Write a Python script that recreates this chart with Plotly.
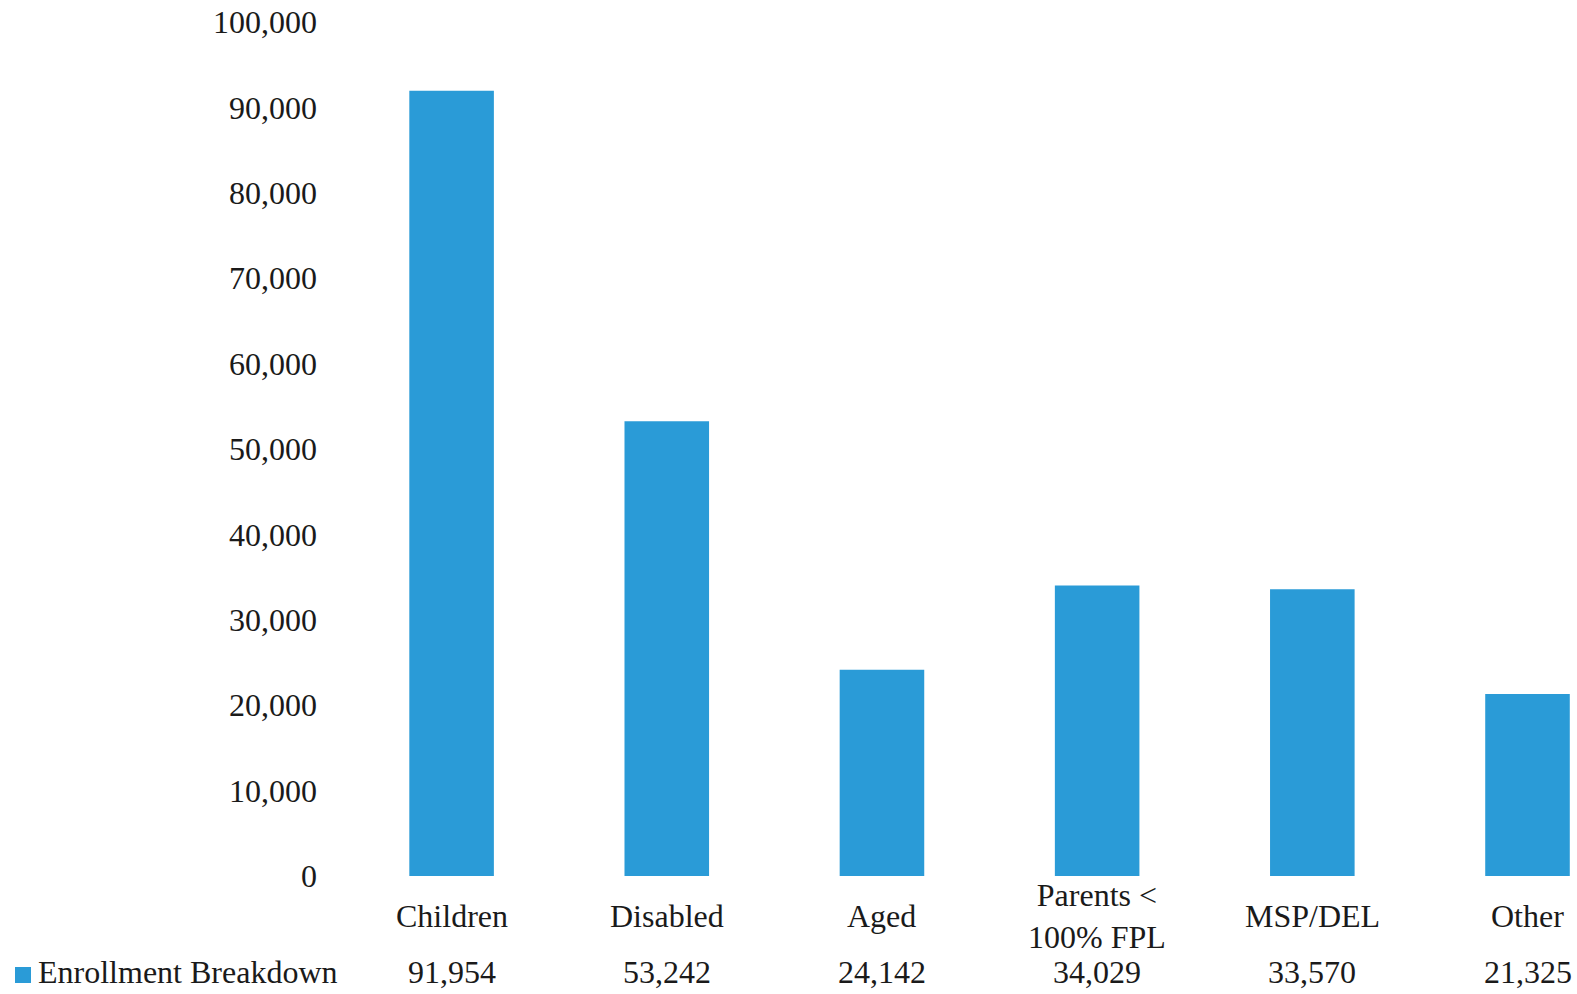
import plotly.graph_objects as go

categories = ["Children", "Disabled", "Aged", "Parents <<br>100% FPL", "MSP/DEL", "Other"]
values = [91954, 53242, 24142, 34029, 33570, 21325]
series_name = "Enrollment Breakdown"
bar_color = "#2A9BD7"
FONT = "Liberation Serif, Times New Roman, serif"
FS = 32

W, H = 1577, 994
L, R, T, B = 344, 0, 22, 118
plot_w = W - L - R
plot_h = H - T - B

x_idx = list(range(len(categories)))

fig = go.Figure()
fig.add_trace(go.Bar(
    x=x_idx, y=values, marker_color=bar_color, marker_line_width=0,
    width=0.393, name=series_name, showlegend=False,
))

ROW_Y = -0.1125
annotations = []
for i, (c, v) in enumerate(zip(categories, values)):
    annotations.append(dict(x=i, xref="x", y=-0.047, yref="paper", text=c,
                            showarrow=False, xanchor="center", yanchor="middle",
                            font=dict(family=FONT, size=FS, color="#1a1a1a")))
    annotations.append(dict(x=i, xref="x", y=ROW_Y, yref="paper", text=f"{v:,}",
                            showarrow=False, xanchor="center", yanchor="middle",
                            font=dict(family=FONT, size=FS, color="#1a1a1a")))

# legend key in table row
annotations.append(dict(x=(36 - L) / plot_w, xref="paper", y=ROW_Y, yref="paper",
                        text=series_name, showarrow=False, xanchor="left", yanchor="middle",
                        font=dict(family=FONT, size=FS, color="#1a1a1a")))
shapes = [dict(type="rect", xref="paper", yref="paper",
               x0=(15 - L) / plot_w, x1=(31 - L) / plot_w,
               y0=-(983 - (H - B)) / plot_h, y1=-(967 - (H - B)) / plot_h,
               fillcolor=bar_color, line=dict(width=0))]

fig.update_layout(
    width=W, height=H,
    margin=dict(l=L, r=R, t=T, b=B, pad=0),
    paper_bgcolor="white", plot_bgcolor="white",
    font=dict(family=FONT, size=FS, color="#1a1a1a"),
    xaxis=dict(range=[-0.5, 5.23], showticklabels=False, showgrid=False,
               zeroline=False, showline=False, ticks=""),
    yaxis=dict(range=[0, 100000], dtick=10000, tickformat=",", showgrid=False,
               zeroline=False, showline=False, ticks="", ticklabelstandoff=26,
               tickfont=dict(family=FONT, size=FS, color="#1a1a1a")),
    annotations=annotations, shapes=shapes, bargap=0.6,
)

fig.write_html("out.html")
